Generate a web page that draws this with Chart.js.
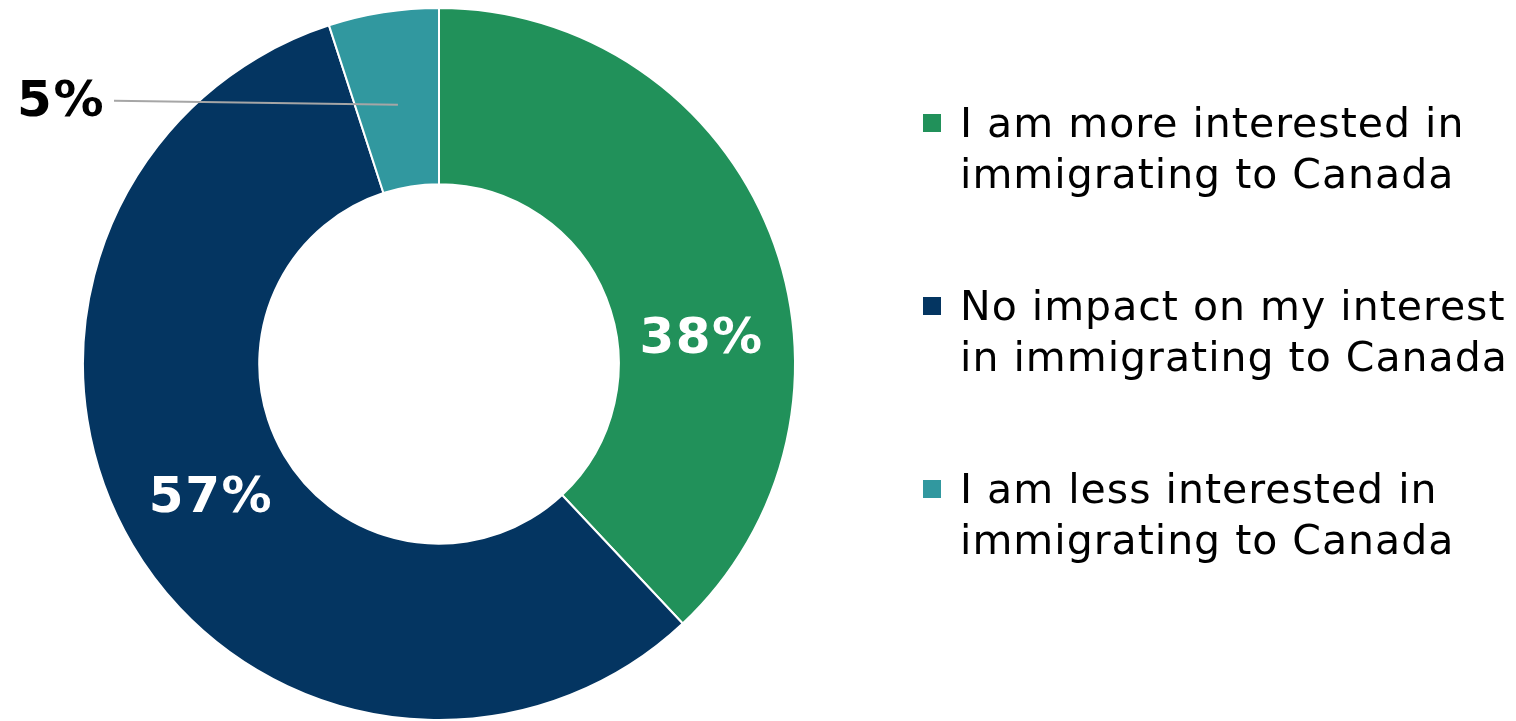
<!DOCTYPE html>
<html>
<head>
<meta charset="utf-8">
<script src="https://cdn.jsdelivr.net/npm/chart.js@4/dist/chart.umd.min.js"></script>
<style>
  html, body { margin: 0; padding: 0; background: #fff; }
  #wrap { width: 1516px; height: 721px; position: relative; }
</style>
</head>
<body>
<div id="wrap"><canvas id="myChart"></canvas></div>
<script>
// legend lines per category
const categories = [
    ['I am more interested in', 'immigrating to Canada'],
    ['No impact on my interest', 'in immigrating to Canada'],
    ['I am less interested in', 'immigrating to Canada']
];
const shares = [38, 57, 5];
const sliceColors = ['#21915A', '#043561', '#31989F'];

const FONT = '"DejaVu Sans", Verdana, sans-serif';

/**
 * Percentage labels drawn on (or next to) each arc.
 */
const sliceLabels = {
    id: 'sliceLabels',
    afterDatasetsDraw(chart, args, opts) {
        const ctx = chart.ctx;
        const arcs = chart.getDatasetMeta(0).data;
        ctx.save();
        ctx.font = 'bold ' + opts.size + 'px ' + FONT;
        ctx.letterSpacing = '1.5px';
        ctx.textBaseline = 'middle';
        arcs.forEach((arc, i) => {
            const p = arc.getProps(['x', 'y', 'startAngle', 'endAngle', 'innerRadius', 'outerRadius'], true);
            const a = p.startAngle + (p.endAngle - p.startAngle) * opts.along[i];
            const r = p.innerRadius + (p.outerRadius - p.innerRadius) * opts.depth[i];
            const px = p.x + Math.cos(a) * r;
            const py = p.y + Math.sin(a) * r;
            const text = shares[i] + '%';
            if (opts.outside[i]) {
                const endX = p.x - opts.leaderLength;
                ctx.strokeStyle = '#A6A6A6';
                ctx.lineWidth = 2;
                ctx.beginPath();
                ctx.moveTo(px, py);
                ctx.lineTo(endX, py - 4);
                ctx.stroke();
                ctx.fillStyle = '#000';
                ctx.textAlign = 'right';
                ctx.fillText(text, endX - 9, py - 2);
            } else {
                ctx.fillStyle = '#fff';
                ctx.textAlign = 'center';
                ctx.fillText(text, px + 1, py);
            }
        });
        ctx.restore();
    }
};

/**
 * Legend with wrapped lines, drawn on the right side.
 */
const sideLegend = {
    id: 'sideLegend',
    afterDraw(chart, args, opts) {
        const ctx = chart.ctx;
        ctx.save();
        ctx.font = opts.size + 'px ' + FONT;
        ctx.letterSpacing = '1px';
        ctx.textAlign = 'left';
        ctx.textBaseline = 'alphabetic';
        categories.forEach((lines, i) => {
            const base = opts.top + i * opts.groupGap;
            ctx.fillStyle = sliceColors[i];
            ctx.fillRect(opts.x, base - 23, 18, 18);
            ctx.fillStyle = '#000';
            lines.forEach((line, j) => {
                ctx.fillText(line, opts.x + 37, base + j * opts.lineGap);
            });
        });
        ctx.restore();
    }
};

function initChart() {
    const ctx = document.getElementById('myChart').getContext('2d');
    new Chart(ctx, {
        type: 'doughnut',
        data: {
            labels: categories.map(l => l.join(' ')),
            datasets: [{
                data: shares,
                backgroundColor: sliceColors,
                borderColor: '#ffffff',
                borderWidth: 2
            }]
        },
        options: {
            responsive: true,
            maintainAspectRatio: false,
            animation: false,
            cutout: '50.5%',
            layout: {
                padding: { left: 82, top: 7, right: 720, bottom: 0 }
            },
            plugins: {
                legend: { display: false },
                tooltip: { enabled: false },
                sliceLabels: {
                    size: 50,
                    along: [0.62, 0.5, 0.5],
                    depth: [0.47, 0.49, 0.47],
                    outside: [false, false, true],
                    leaderLength: 325
                },
                sideLegend: {
                    size: 41,
                    x: 923,
                    top: 137,
                    groupGap: 183,
                    lineGap: 51
                }
            }
        },
        plugins: [sliceLabels, sideLegend]
    });
}

initChart();
</script>
</body>
</html>
